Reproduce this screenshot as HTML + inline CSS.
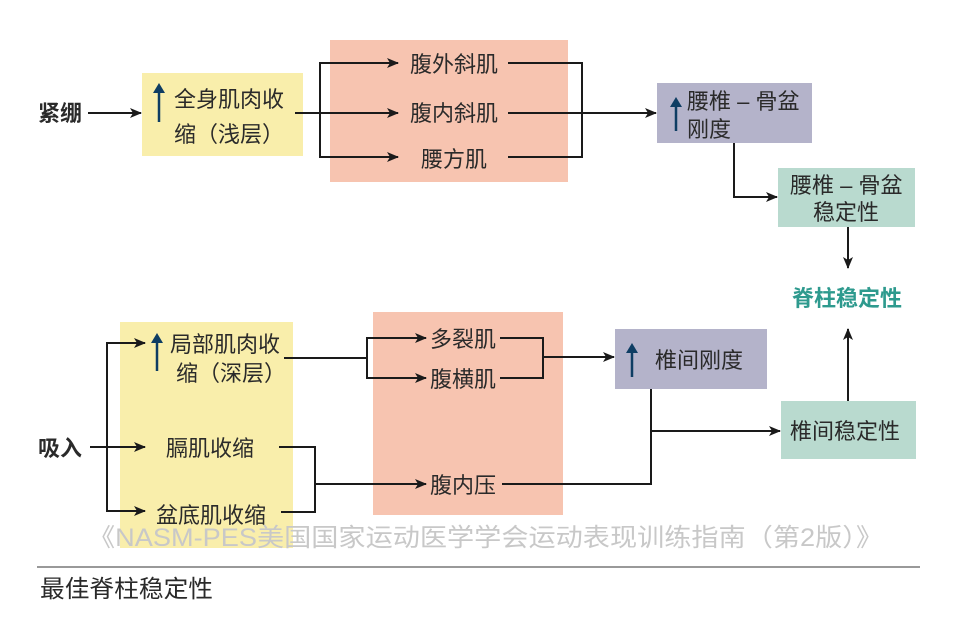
<!DOCTYPE html>
<html><head><meta charset="utf-8"><style>
html,body{margin:0;padding:0;background:#fff;}
svg text{font-family:"Liberation Sans","Noto Sans CJK SC",sans-serif;font-size:22px;fill:#2a2a2a;}
</style></head><body>
<svg width="959" height="613" viewBox="0 0 959 613" xmlns="http://www.w3.org/2000/svg">
<defs>
<marker id="a" markerWidth="12" markerHeight="10" refX="11" refY="5" orient="auto" markerUnits="userSpaceOnUse">
<path d="M0,0 L12,5 L0,10 L3,5 Z" fill="#1a1a1a"/></marker>
</defs>
<rect x="142" y="73" width="161" height="83" fill="#f9eeab"/>
<rect x="330" y="40" width="238" height="142" fill="#f7c4b0"/>
<rect x="657" y="83" width="155" height="60" fill="#b4b3ca"/>
<rect x="778" y="168" width="137" height="59" fill="#b9dacf"/>
<rect x="120" y="322" width="173" height="226" fill="#f9eeab"/>
<rect x="373" y="312" width="190" height="203" fill="#f7c4b0"/>
<rect x="615" y="329" width="152" height="60" fill="#b4b3ca"/>
<rect x="781" y="401" width="135" height="58" fill="#b9dacf"/>

<g stroke="#1a1a1a" stroke-width="2" fill="none">
<line x1="88" y1="113" x2="141" y2="113" marker-end="url(#a)"/>
<line x1="295" y1="113" x2="320" y2="113"/>
<polyline points="398,63 320,63 320,157 398,157" />
<line x1="320" y1="63" x2="398" y2="63" marker-end="url(#a)"/>
<line x1="320" y1="157" x2="398" y2="157" marker-end="url(#a)"/>
<line x1="320" y1="113" x2="398" y2="113" marker-end="url(#a)"/>
<polyline points="508,63 582,63 582,157 508,157"/>
<line x1="508" y1="113" x2="656" y2="113" marker-end="url(#a)"/>
<polyline points="734,143 734,197 777,197" marker-end="url(#a)"/>
<line x1="848" y1="227" x2="848" y2="268" marker-end="url(#a)"/>
<line x1="90" y1="447" x2="145" y2="447" marker-end="url(#a)"/>
<polyline points="145,343 107,343 107,511 145,511"/>
<line x1="107" y1="343" x2="145" y2="343" marker-end="url(#a)"/>
<line x1="107" y1="511" x2="145" y2="511" marker-end="url(#a)"/>
<line x1="284" y1="358" x2="367" y2="358"/>
<polyline points="425,338 367,338 367,378 425,378"/>
<line x1="367" y1="338" x2="426" y2="338" marker-end="url(#a)"/>
<line x1="367" y1="378" x2="426" y2="378" marker-end="url(#a)"/>
<polyline points="500,338 543,338 543,378 500,378"/>
<line x1="543" y1="357" x2="614" y2="357" marker-end="url(#a)"/>
<polyline points="279,447 315,447 315,512 281,512"/>
<line x1="315" y1="484" x2="426" y2="484" marker-end="url(#a)"/>
<polyline points="502,484 651,484 651,389"/>
<line x1="651" y1="431" x2="780" y2="431" marker-end="url(#a)"/>
<line x1="848" y1="401" x2="848" y2="329" marker-end="url(#a)"/>
</g>
<g stroke="#0e3d63" stroke-width="2.5" fill="#0e3d63">
<line x1="159" y1="122" x2="159" y2="90"/><path d="M153,93 L159,83 L165,93 Z" stroke="none"/>
<line x1="676" y1="131" x2="676" y2="104"/><path d="M670,107 L676,97 L682,107 Z" stroke="none"/>
<line x1="157" y1="371" x2="157" y2="340"/><path d="M151,343 L157,333 L163,343 Z" stroke="none"/>
<line x1="632" y1="377" x2="632" y2="350"/><path d="M626,353 L632,343 L638,353 Z" stroke="none"/>
</g>
<text x="38" y="121" style="font-weight:bold">紧绷</text>
<text x="174" y="107">全身肌肉收</text>
<text x="174" y="142">缩（浅层）</text>
<text x="410" y="72">腹外斜肌</text>
<text x="410" y="121">腹内斜肌</text>
<text x="421" y="167">腰方肌</text>
<text x="687" y="109">腰椎 – 骨盆</text>
<text x="687" y="137">刚度</text>
<text x="790" y="193">腰椎 – 骨盆</text>
<text x="813" y="220">稳定性</text>
<text x="792" y="306" style="fill:#2e9a8e;font-weight:bold">脊柱稳定性</text>
<text x="38" y="456" style="font-weight:bold">吸入</text>
<text x="170" y="352">局部肌肉收</text>
<text x="176" y="381">缩（深层）</text>
<text x="166" y="456">膈肌收缩</text>
<text x="156" y="523">盆底肌收缩</text>
<text x="430" y="347">多裂肌</text>
<text x="430" y="387">腹横肌</text>
<text x="430" y="493">腹内压</text>
<text x="655" y="368">椎间刚度</text>
<text x="790" y="439">椎间稳定性</text>
<text x="88" y="546" textLength="795" lengthAdjust="spacingAndGlyphs" style="fill:#c8c8c8;font-size:25px">《NASM-PES美国国家运动医学学会运动表现训练指南（第2版）》</text>
<line x1="37" y1="567" x2="920" y2="567" stroke="#999" stroke-width="2"/>
<text x="40" y="597" textLength="173" lengthAdjust="spacingAndGlyphs" style="font-size:24px">最佳脊柱稳定性</text>
</svg>
</body></html>
